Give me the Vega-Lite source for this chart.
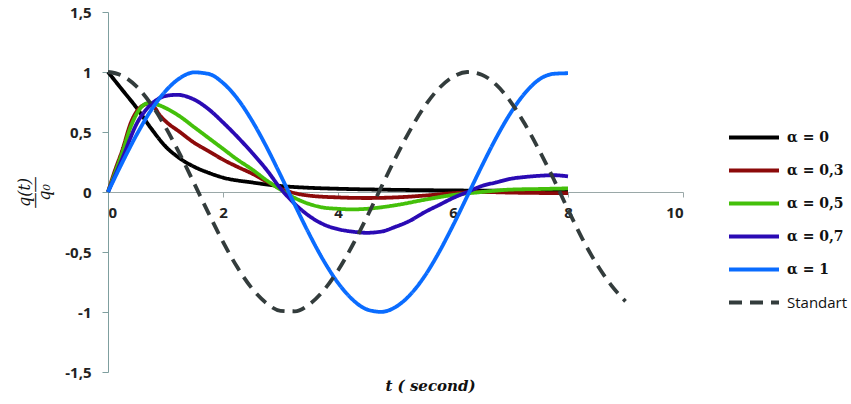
{
  "$schema": "https://vega.github.io/schema/vega-lite/v6.json",
  "width": 575,
  "height": 360,
  "autosize": {"type": "none"},
  "padding": {"left": 108, "top": 12, "right": 168, "bottom": 32},
  "background": "white",
  "config": {"view": {"stroke": null}},
  "data": {"values": [
    {"s":"α = 0","t":0,"q":1},{"s":"α = 0","t":0.25,"q":0.85},{"s":"α = 0","t":0.5,"q":0.7},{"s":"α = 0","t":0.75,"q":0.53},
    {"s":"α = 0","t":1,"q":0.38},{"s":"α = 0","t":1.25,"q":0.28},{"s":"α = 0","t":1.5,"q":0.21},{"s":"α = 0","t":1.75,"q":0.16},
    {"s":"α = 0","t":2,"q":0.12},{"s":"α = 0","t":2.5,"q":0.08},{"s":"α = 0","t":3,"q":0.05},{"s":"α = 0","t":3.5,"q":0.035},
    {"s":"α = 0","t":4,"q":0.027},{"s":"α = 0","t":5,"q":0.018},{"s":"α = 0","t":6,"q":0.013},{"s":"α = 0","t":7,"q":0.01},{"s":"α = 0","t":8,"q":0.008},

    {"s":"α = 0,3","t":0,"q":0},{"s":"α = 0,3","t":0.1,"q":0.15},{"s":"α = 0,3","t":0.25,"q":0.35},{"s":"α = 0,3","t":0.4,"q":0.58},
    {"s":"α = 0,3","t":0.55,"q":0.7},{"s":"α = 0,3","t":0.7,"q":0.735},{"s":"α = 0,3","t":0.8,"q":0.71},{"s":"α = 0,3","t":0.9,"q":0.64},
    {"s":"α = 0,3","t":1,"q":0.59},{"s":"α = 0,3","t":1.25,"q":0.5},{"s":"α = 0,3","t":1.5,"q":0.41},{"s":"α = 0,3","t":1.75,"q":0.34},
    {"s":"α = 0,3","t":2,"q":0.27},{"s":"α = 0,3","t":2.25,"q":0.21},{"s":"α = 0,3","t":2.5,"q":0.155},{"s":"α = 0,3","t":2.75,"q":0.09},
    {"s":"α = 0,3","t":3,"q":0.03},{"s":"α = 0,3","t":3.25,"q":-0.01},{"s":"α = 0,3","t":3.5,"q":-0.03},{"s":"α = 0,3","t":4,"q":-0.045},
    {"s":"α = 0,3","t":4.5,"q":-0.05},{"s":"α = 0,3","t":5,"q":-0.045},{"s":"α = 0,3","t":5.5,"q":-0.03},{"s":"α = 0,3","t":6,"q":-0.01},
    {"s":"α = 0,3","t":6.5,"q":0},{"s":"α = 0,3","t":7,"q":-0.005},{"s":"α = 0,3","t":8,"q":-0.01},

    {"s":"α = 0,5","t":0,"q":0},{"s":"α = 0,5","t":0.1,"q":0.13},{"s":"α = 0,5","t":0.25,"q":0.33},{"s":"α = 0,5","t":0.4,"q":0.55},
    {"s":"α = 0,5","t":0.55,"q":0.69},{"s":"α = 0,5","t":0.7,"q":0.74},{"s":"α = 0,5","t":0.85,"q":0.73},{"s":"α = 0,5","t":1,"q":0.7},
    {"s":"α = 0,5","t":1.25,"q":0.63},{"s":"α = 0,5","t":1.5,"q":0.54},{"s":"α = 0,5","t":1.75,"q":0.45},{"s":"α = 0,5","t":2,"q":0.36},
    {"s":"α = 0,5","t":2.25,"q":0.27},{"s":"α = 0,5","t":2.5,"q":0.19},{"s":"α = 0,5","t":2.75,"q":0.1},{"s":"α = 0,5","t":3,"q":0.02},
    {"s":"α = 0,5","t":3.25,"q":-0.05},{"s":"α = 0,5","t":3.5,"q":-0.1},{"s":"α = 0,5","t":3.75,"q":-0.13},{"s":"α = 0,5","t":4,"q":-0.14},
    {"s":"α = 0,5","t":4.25,"q":-0.145},{"s":"α = 0,5","t":4.5,"q":-0.14},{"s":"α = 0,5","t":5,"q":-0.11},{"s":"α = 0,5","t":5.5,"q":-0.065},
    {"s":"α = 0,5","t":6,"q":-0.025},{"s":"α = 0,5","t":6.5,"q":0},{"s":"α = 0,5","t":7,"q":0.02},{"s":"α = 0,5","t":7.5,"q":0.025},{"s":"α = 0,5","t":8,"q":0.03},

    {"s":"α = 0,7","t":0,"q":0},{"s":"α = 0,7","t":0.25,"q":0.28},{"s":"α = 0,7","t":0.5,"q":0.57},{"s":"α = 0,7","t":0.75,"q":0.73},
    {"s":"α = 0,7","t":1,"q":0.8},{"s":"α = 0,7","t":1.2,"q":0.81},{"s":"α = 0,7","t":1.5,"q":0.77},{"s":"α = 0,7","t":1.75,"q":0.69},
    {"s":"α = 0,7","t":2,"q":0.58},{"s":"α = 0,7","t":2.25,"q":0.46},{"s":"α = 0,7","t":2.5,"q":0.33},{"s":"α = 0,7","t":2.75,"q":0.19},
    {"s":"α = 0,7","t":3,"q":0.03},{"s":"α = 0,7","t":3.25,"q":-0.1},{"s":"α = 0,7","t":3.5,"q":-0.2},{"s":"α = 0,7","t":3.75,"q":-0.27},
    {"s":"α = 0,7","t":4,"q":-0.31},{"s":"α = 0,7","t":4.25,"q":-0.33},{"s":"α = 0,7","t":4.5,"q":-0.34},{"s":"α = 0,7","t":4.75,"q":-0.33},
    {"s":"α = 0,7","t":5,"q":-0.29},{"s":"α = 0,7","t":5.25,"q":-0.24},{"s":"α = 0,7","t":5.5,"q":-0.17},{"s":"α = 0,7","t":5.75,"q":-0.11},
    {"s":"α = 0,7","t":6,"q":-0.05},{"s":"α = 0,7","t":6.25,"q":0},{"s":"α = 0,7","t":6.5,"q":0.05},{"s":"α = 0,7","t":6.75,"q":0.08},
    {"s":"α = 0,7","t":7,"q":0.11},{"s":"α = 0,7","t":7.25,"q":0.125},{"s":"α = 0,7","t":7.5,"q":0.135},{"s":"α = 0,7","t":7.75,"q":0.14},{"s":"α = 0,7","t":8,"q":0.13},

    {"s":"α = 1","t":0,"q":0},{"s":"α = 1","t":0.25,"q":0.247},{"s":"α = 1","t":0.5,"q":0.479},{"s":"α = 1","t":0.75,"q":0.682},
    {"s":"α = 1","t":1,"q":0.841},{"s":"α = 1","t":1.25,"q":0.949},{"s":"α = 1","t":1.5,"q":0.997},{"s":"α = 1","t":1.75,"q":0.984},
    {"s":"α = 1","t":2,"q":0.909},{"s":"α = 1","t":2.25,"q":0.778},{"s":"α = 1","t":2.5,"q":0.598},{"s":"α = 1","t":2.75,"q":0.382},
    {"s":"α = 1","t":3,"q":0.141},{"s":"α = 1","t":3.25,"q":-0.108},{"s":"α = 1","t":3.5,"q":-0.351},{"s":"α = 1","t":3.75,"q":-0.572},
    {"s":"α = 1","t":4,"q":-0.757},{"s":"α = 1","t":4.25,"q":-0.895},{"s":"α = 1","t":4.5,"q":-0.978},{"s":"α = 1","t":4.75,"q":-0.999},
    {"s":"α = 1","t":5,"q":-0.959},{"s":"α = 1","t":5.25,"q":-0.859},{"s":"α = 1","t":5.5,"q":-0.706},{"s":"α = 1","t":5.75,"q":-0.508},
    {"s":"α = 1","t":6,"q":-0.279},{"s":"α = 1","t":6.25,"q":-0.033},{"s":"α = 1","t":6.5,"q":0.215},{"s":"α = 1","t":6.75,"q":0.45},
    {"s":"α = 1","t":7,"q":0.657},{"s":"α = 1","t":7.25,"q":0.823},{"s":"α = 1","t":7.5,"q":0.938},{"s":"α = 1","t":7.75,"q":0.985},{"s":"α = 1","t":8,"q":0.99},

    {"s":"Standart","t":0,"q":1},{"s":"Standart","t":0.25,"q":0.969},{"s":"Standart","t":0.5,"q":0.878},{"s":"Standart","t":0.75,"q":0.732},
    {"s":"Standart","t":1,"q":0.54},{"s":"Standart","t":1.25,"q":0.315},{"s":"Standart","t":1.5,"q":0.071},{"s":"Standart","t":1.75,"q":-0.178},
    {"s":"Standart","t":2,"q":-0.416},{"s":"Standart","t":2.25,"q":-0.628},{"s":"Standart","t":2.5,"q":-0.801},{"s":"Standart","t":2.75,"q":-0.924},
    {"s":"Standart","t":3,"q":-0.99},{"s":"Standart","t":3.25,"q":-0.994},{"s":"Standart","t":3.5,"q":-0.936},{"s":"Standart","t":3.75,"q":-0.82},
    {"s":"Standart","t":4,"q":-0.654},{"s":"Standart","t":4.25,"q":-0.446},{"s":"Standart","t":4.5,"q":-0.211},{"s":"Standart","t":4.75,"q":0.038},
    {"s":"Standart","t":5,"q":0.284},{"s":"Standart","t":5.25,"q":0.512},{"s":"Standart","t":5.5,"q":0.709},{"s":"Standart","t":5.75,"q":0.861},
    {"s":"Standart","t":6,"q":0.96},{"s":"Standart","t":6.25,"q":1},{"s":"Standart","t":6.5,"q":0.977},{"s":"Standart","t":6.75,"q":0.894},
    {"s":"Standart","t":7,"q":0.754},{"s":"Standart","t":7.25,"q":0.566},{"s":"Standart","t":7.5,"q":0.347},{"s":"Standart","t":7.75,"q":0.108},
    {"s":"Standart","t":8,"q":-0.146},{"s":"Standart","t":8.25,"q":-0.39},{"s":"Standart","t":8.5,"q":-0.602},{"s":"Standart","t":8.75,"q":-0.776},{"s":"Standart","t":9,"q":-0.911}
  ]},
  "mark": {"type": "line", "interpolate": "monotone", "strokeWidth": 3.8, "strokeCap": "butt"},
  "encoding": {
    "x": {
      "field": "t", "type": "quantitative",
      "scale": {"domain": [0, 10], "nice": false, "zero": false},
      "axis": {
        "values": [0, 2, 4, 6, 8, 10],
        "offset": -180,
        "grid": false,
        "domainColor": "#9aa8a8",
        "tickColor": "#9aa8a8",
        "tickSize": 5,
        "labelPadding": 8,
        "labelFont": "Open Sans",
        "labelFontSize": 15,
        "labelFontWeight": "bold",
        "labelColor": "#222222",
        "title": "t ( second)",
        "titleFont": "DejaVu Serif",
        "titleFontStyle": "italic",
        "titleFontWeight": "bold",
        "titleFontSize": 15,
        "titleColor": "#111111",
        "titleX": 322,
        "titleY": 193,
        "titleAlign": "center",
        "titleBaseline": "middle"
      }
    },
    "y": {
      "field": "q", "type": "quantitative",
      "scale": {"domain": [-1.5, 1.5], "nice": false},
      "axis": {
        "values": [-1.5, -1, -0.5, 0, 0.5, 1, 1.5],
        "labelExpr": "replace(toString(datum.value), '.', ',')",
        "grid": false,
        "domainColor": "#7f9f9f",
        "tickColor": "#7f9f9f",
        "tickSize": 6,
        "labelPadding": 11,
        "labelFont": "Open Sans",
        "labelFontSize": 15,
        "labelFontWeight": "bold",
        "labelColor": "#222222",
        "title": ["q(t)", "——", "q₀"],
        "titleFont": "DejaVu Serif",
        "titleFontStyle": "italic",
        "titleFontWeight": "normal",
        "titleFontSize": 16,
        "titleLineHeight": 10,
        "titleColor": "#111111",
        "titleAngle": -90,
        "titleX": -84,
        "titleY": 180,
        "titleAlign": "center",
        "titleBaseline": "middle"
      }
    },
    "color": {
      "field": "s", "type": "nominal",
      "scale": {
        "domain": ["α = 0", "α = 0,3", "α = 0,5", "α = 0,7", "α = 1", "Standart"],
        "range": ["#000000", "#8c0a0a", "#44c00a", "#2a0ab4", "#0a6cff", "#333c3c"]
      },
      "legend": {
        "title": null,
        "orient": "none",
        "legendX": 619,
        "legendY": 117,
        "symbolType": "stroke",
        "symbolSize": 2500,
        "symbolStrokeWidth": 4,
        "clipHeight": 17,
        "rowPadding": 16,
        "labelOffset": 6,
        "labelFont": "DejaVu Serif",
        "labelFontSize": 14,
        "labelFontWeight": "bold",
        "labelColor": "#111111",
        "padding": 0,
        "encode": {
          "labels": {
            "update": {
              "font": {"signal": "datum.label === 'Standart' ? 'Open Sans' : 'DejaVu Serif'"},
              "fontWeight": {"signal": "datum.label === 'Standart' ? 'normal' : 'bold'"},
              "fontSize": {"signal": "datum.label === 'Standart' ? 15 : 14"}
            }
          }
        }
      }
    },
    "strokeDash": {
      "field": "s", "type": "nominal",
      "scale": {
        "domain": ["α = 0", "α = 0,3", "α = 0,5", "α = 0,7", "α = 1", "Standart"],
        "range": [[1, 0], [1, 0], [1, 0], [1, 0], [1, 0], [13, 8]]
      },
      "legend": {
        "title": null,
        "orient": "none",
        "legendX": 619,
        "legendY": 117,
        "symbolType": "stroke",
        "symbolSize": 2500,
        "symbolStrokeWidth": 4,
        "clipHeight": 17,
        "rowPadding": 16,
        "labelOffset": 6,
        "labelFont": "DejaVu Serif",
        "labelFontSize": 14,
        "labelFontWeight": "bold",
        "labelColor": "#111111",
        "padding": 0,
        "encode": {
          "labels": {
            "update": {
              "font": {"signal": "datum.label === 'Standart' ? 'Open Sans' : 'DejaVu Serif'"},
              "fontWeight": {"signal": "datum.label === 'Standart' ? 'normal' : 'bold'"},
              "fontSize": {"signal": "datum.label === 'Standart' ? 15 : 14"}
            }
          }
        }
      }
    }
  }
}
